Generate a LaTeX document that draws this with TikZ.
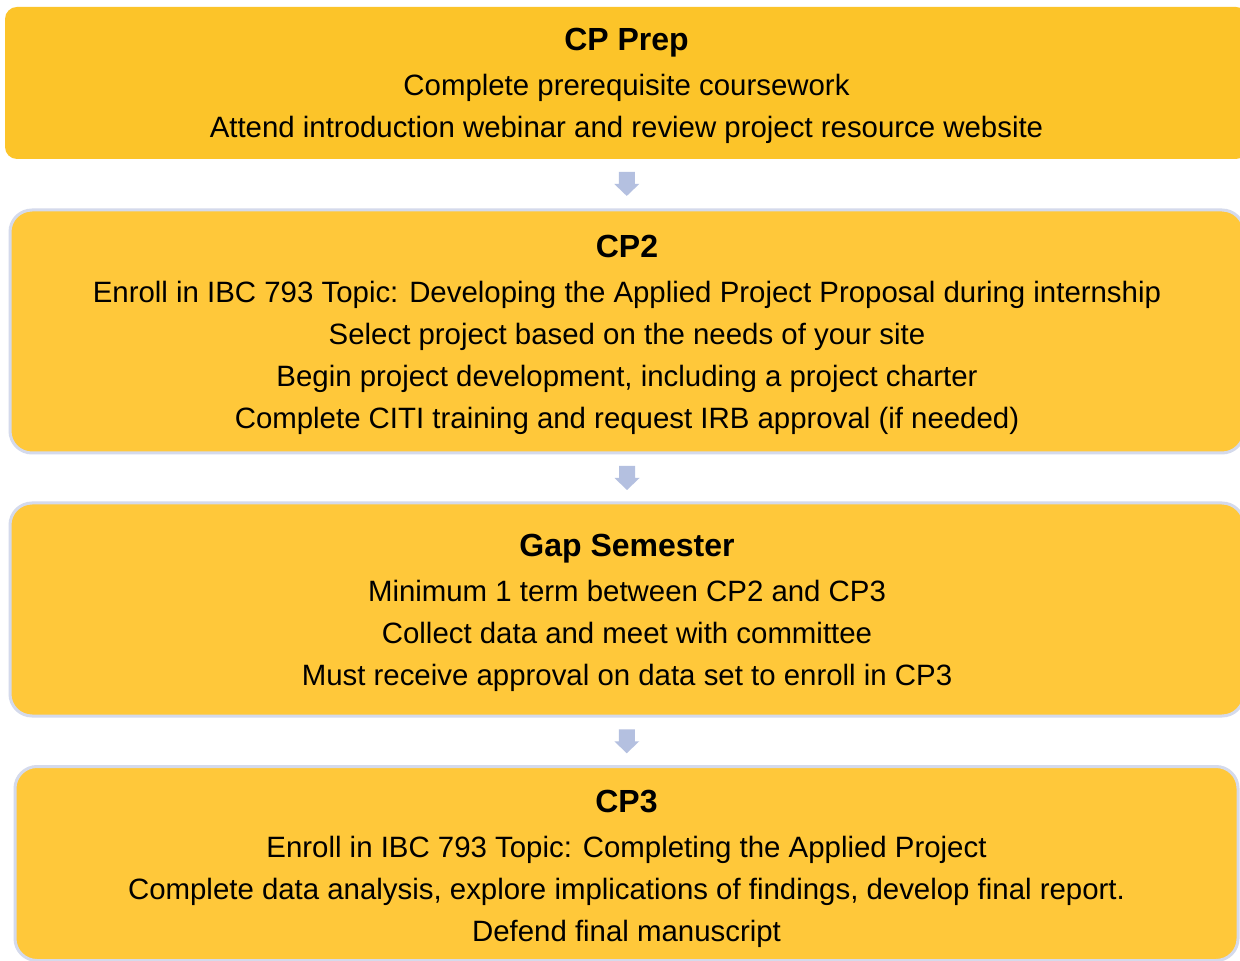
\documentclass[tikz,border=0pt]{standalone}
\usepackage{fontspec}
\setmainfont{Liberation Sans}
\usetikzlibrary{calc}
\definecolor{boxA}{RGB}{252,196,41}
\definecolor{boxB}{RGB}{255,200,58}
\definecolor{edgeB}{RGB}{212,218,236}
\definecolor{arrowc}{RGB}{180,192,224}
\tikzset{
  stagebox/.style={rectangle, inner sep=0pt},
  firstbox/.style={stagebox, fill=boxA, rounded corners=6pt},
  otherbox/.style={stagebox, fill=boxB, draw=edgeB, line width=1.5pt, rounded corners=11pt},
  stagetext/.style={align=center, inner sep=0pt, text=black, yshift=-1.5pt,
    font=\fontsize{14.7}{21}\selectfont},
  blockarrow/.style={fill=arrowc}
}
\newcommand{\stagetitle}[1]{{\fontsize{16}{21}\selectfont\bfseries #1}\\[1.5pt]}
\begin{document}
\begin{tikzpicture}[x=0.5pt,y=-0.5pt]
\useasboundingbox (0,0) rectangle (1240,961);
\fill[white] (0,0) rectangle (1240,961);
\node[firstbox, minimum width=621.5pt, minimum height=76pt] (a) at (626.5,83) {};
\node[otherbox, minimum width=617pt, minimum height=121.5pt] (b) at (627,331.5) {};
\node[otherbox, minimum width=617pt, minimum height=106.5pt] (c) at (627,609.5) {};
\node[otherbox, minimum width=611.5pt, minimum height=97pt] (d) at (626.5,863.5) {};
\node[stagetext] (at) at (a.center)
  {\stagetitle{CP Prep}Complete prerequisite coursework\\Attend introduction webinar and review project resource website};
\node[stagetext] (bt) at (b.center)
  {\stagetitle{CP2}Enroll in IBC 793 Topic: Developing the Applied Project Proposal during internship\\Select project based on the needs of your site\\Begin project development, including a project charter\\Complete CITI training and request IRB approval (if needed)};
\node[stagetext] (ct) at (c.center)
  {\stagetitle{Gap Semester}Minimum 1 term between CP2 and CP3\\Collect data and meet with committee\\Must receive approval on data set to enroll in CP3};
\node[stagetext, yshift=-1pt] (dt) at (d.center)
  {\stagetitle{CP3}Enroll in IBC 793 Topic: Completing the Applied Project\\Complete data analysis, explore implications of findings, develop final report.\\Defend final manuscript};
\coordinate (m1) at ($(a.south)!0.5!(b.north)$);
\coordinate (m2) at ($(b.south)!0.5!(c.north)$);
\coordinate (m3) at ($(c.south)!0.5!(d.north)$);
\foreach \m in {m1,m2,m3}{
  \fill[blockarrow] ([xshift=-4pt,yshift=6pt]\m) -- ([xshift=4pt,yshift=6pt]\m)
    -- ([xshift=4pt]\m) -- ([xshift=6.25pt]\m) -- ([yshift=-6pt]\m)
    -- ([xshift=-6.25pt]\m) -- ([xshift=-4pt]\m) -- cycle;
}
\end{tikzpicture}
\end{document}
